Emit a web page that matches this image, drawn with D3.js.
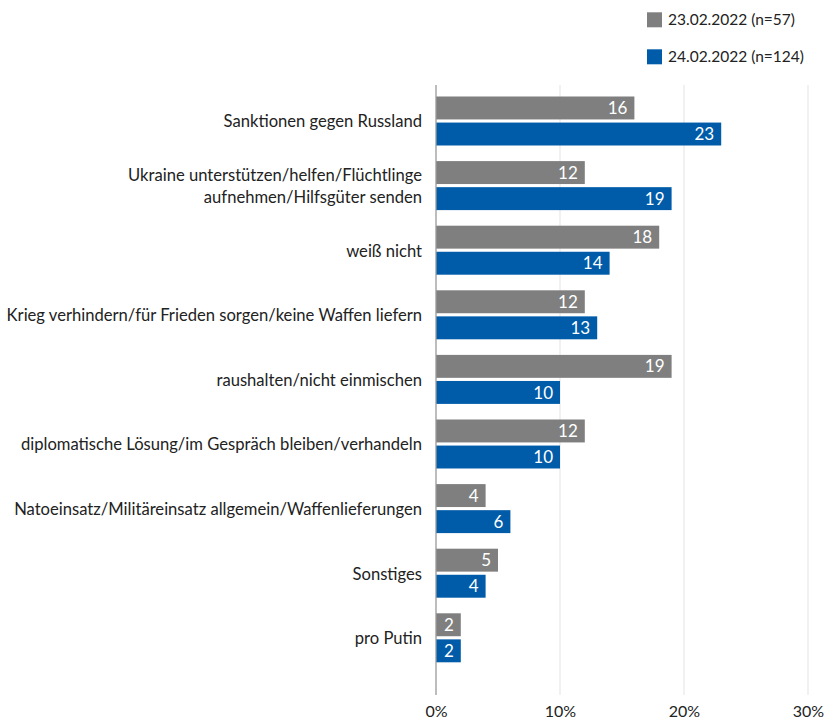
<!DOCTYPE html>
<html><head><meta charset="utf-8">
<script src="https://cdn.jsdelivr.net/npm/d3@7"></script>
<style>body{margin:0;background:#fff}svg{display:block}text{font-family:Lato,"Noto Sans",sans-serif}</style>
</head><body><svg id="c" width="824" height="722"></svg>
<script>
const categories = [
  ["Sanktionen gegen Russland"],
  ["Ukraine unterstützen/helfen/Flüchtlinge","aufnehmen/Hilfsgüter senden"],
  ["weiß nicht"],
  ["Krieg verhindern/für Frieden sorgen/keine Waffen liefern"],
  ["raushalten/nicht einmischen"],
  ["diplomatische Lösung/im Gespräch bleiben/verhandeln"],
  ["Natoeinsatz/Militäreinsatz allgemein/Waffenlieferungen"],
  ["Sonstiges"],
  ["pro Putin"]
];
const seriesNames = ["23.02.2022 (n=57)", "24.02.2022 (n=124)"];
const values2302 = [16, 12, 18, 12, 19, 12, 4, 5, 2];
const values2402 = [23, 19, 14, 13, 10, 10, 6, 4, 2];
const xTicks = [0, 10, 20, 30];
const colors = ["#7f7f7f", "#005ca9"];

const svg = d3.select("#c");
const x = d3.scaleLinear().domain([0, 30]).range([436, 808]);
const y = d3.scaleBand().domain(d3.range(categories.length)).range([88.7, 670.1]);
const ys = d3.scaleBand().domain([0,1]).range([0, 49]).paddingInner(0.12);
const off = (y.bandwidth() - 49) / 2;

// gridlines
svg.append("g").selectAll("line").data(xTicks.slice(1)).join("line")
  .attr("x1", d => x(d)).attr("x2", d => x(d)).attr("y1", 85).attr("y2", 695)
  .attr("stroke", "#e3e3e3").attr("stroke-width", 1);

// axis tick labels
const ax = svg.append("g").attr("transform", "translate(0,695)")
  .call(d3.axisBottom(x).tickValues(xTicks).tickFormat(d => d + "%").tickSize(0).tickPadding(11));
ax.select(".domain").remove();
ax.selectAll("text").attr("font-size", 16).attr("fill", "#222").attr("font-family", "Lato,sans-serif");

const data = categories.map((c, i) => ({c, i, v: [values2302[i], values2402[i]]}));
const g = svg.append("g").selectAll("g").data(data).join("g")
  .attr("transform", d => `translate(0,${y(d.i) + off})`);

g.selectAll("rect").data(d => d.v).join("rect")
  .attr("x", x(0)).attr("y", (d, j) => ys(j)).attr("height", ys.bandwidth())
  .attr("width", d => x(d) - x(0)).attr("fill", (d, j) => colors[j]);

g.selectAll("text.v").data(d => d.v).join("text").attr("class", "v")
  .attr("x", d => x(d) - 7).attr("y", (d, j) => ys(j) + ys.bandwidth() / 2)
  .attr("dy", "0.36em").attr("text-anchor", "end").attr("fill", "#fff")
  .attr("font-size", 17).text(d => d);

// category labels
g.append("text").attr("class", "cat").attr("text-anchor", "end").attr("font-size", 16.6).attr("fill", "#222")
  .each(function(d) {
    const t = d3.select(this);
    const n = d.c.length;
    d.c.forEach((line, k) => {
      t.append("tspan").attr("x", 422).attr("y", 25 + (k - (n - 1) / 2) * 22).attr("dy", "0.36em").text(line);
    });
  });

// axis line
svg.append("line").attr("x1", x(0)).attr("x2", x(0)).attr("y1", 85).attr("y2", 695)
  .attr("stroke", "#999").attr("stroke-width", 1.3);

// legend
const lg = svg.append("g").selectAll("g").data(seriesNames).join("g")
  .attr("transform", (d, i) => `translate(647,${12.3 + i * 37})`);
lg.append("rect").attr("width", 15).attr("height", 15).attr("fill", (d, i) => colors[i]);
lg.append("text").attr("x", 21).attr("y", 7.5).attr("dy", "0.36em").attr("font-size", 15.5).attr("fill", "#222").text(d => d);
</script></body></html>
